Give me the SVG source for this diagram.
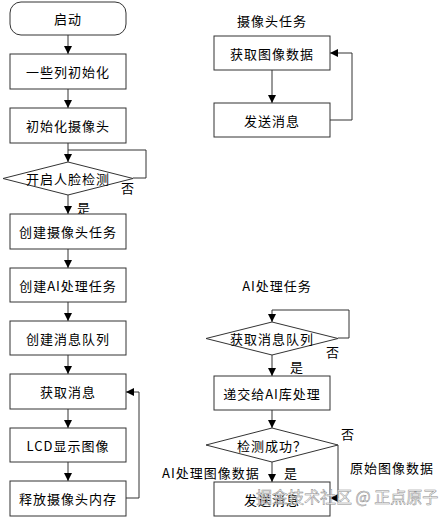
<svg xmlns="http://www.w3.org/2000/svg" width="442" height="518" viewBox="0 0 442 518">
<defs>
<marker id="arr" markerWidth="8" markerHeight="8" refX="8" refY="4" orient="auto" markerUnits="userSpaceOnUse">
<path d="M0,0 L8,4 L0,8 z" fill="#000"/>
</marker>
<style>
.box{fill:#fff;stroke:#333;stroke-width:1}
.ln{fill:none;stroke:#333;stroke-width:1}
.t{font-family:"Noto Sans CJK SC","Noto Sans",sans-serif;font-size:13px;letter-spacing:1px;fill:#000;text-anchor:middle;dominant-baseline:central}
.l{font-family:"Noto Sans CJK SC","Noto Sans",sans-serif;font-size:13px;letter-spacing:1px;fill:#000;dominant-baseline:central}
.wm{font-family:"Noto Sans CJK SC","Noto Sans",sans-serif;font-size:16px;fill:#fff;fill-opacity:0.75;stroke:#8a8a8a;stroke-width:0.5;dominant-baseline:central}
</style>
</defs>
<g id="connectors">
<line class="ln" x1="68" y1="35" x2="68" y2="54" marker-end="url(#arr)"/>
<line class="ln" x1="68" y1="89" x2="68" y2="108" marker-end="url(#arr)"/>
<line class="ln" x1="68" y1="143" x2="68" y2="162" marker-end="url(#arr)"/>
<polyline class="ln" points="133,178 146,178 146,150 68,150"/>
<line class="ln" x1="68" y1="195" x2="68" y2="214" marker-end="url(#arr)"/>
<line class="ln" x1="68" y1="249" x2="68" y2="268" marker-end="url(#arr)"/>
<line class="ln" x1="68" y1="302" x2="68" y2="321" marker-end="url(#arr)"/>
<line class="ln" x1="68" y1="355" x2="68" y2="374" marker-end="url(#arr)"/>
<line class="ln" x1="68" y1="409" x2="68" y2="428" marker-end="url(#arr)"/>
<line class="ln" x1="68" y1="462" x2="68" y2="481" marker-end="url(#arr)"/>
<polyline class="ln" points="126,498 139,498 139,392 126,392" marker-end="url(#arr)"/>
<line class="ln" x1="272" y1="70" x2="272" y2="103" marker-end="url(#arr)"/>
<polyline class="ln" points="330,120 352,120 352,53 330,53" marker-end="url(#arr)"/>
<line class="ln" x1="272" y1="310" x2="272" y2="322" marker-end="url(#arr)"/>
<polyline class="ln" points="338,338 349,338 349,310 272,310"/>
<line class="ln" x1="272" y1="355" x2="272" y2="376" marker-end="url(#arr)"/>
<line class="ln" x1="272" y1="410" x2="272" y2="428" marker-end="url(#arr)"/>
<line class="ln" x1="272" y1="462" x2="272" y2="482" marker-end="url(#arr)"/>
<polyline class="ln" points="338,445 338,498 330,498" marker-end="url(#arr)"/>
</g>
<g id="start"><rect class="box" x="10" y="2" width="116" height="33" rx="11"/><text class="t" x="68" y="18.5">启动</text></g>
<g id="init"><rect class="box" x="10" y="54" width="116" height="35"/><text class="t" x="68" y="71.5">一些列初始化</text></g>
<g id="initcam"><rect class="box" x="10" y="108" width="116" height="35"/><text class="t" x="68" y="125.5">初始化摄像头</text></g>
<g id="face"><polygon class="box" points="68,162 133,178.5 68,195 3,178.5"/><text class="t" x="68" y="178.5">开启人脸检测</text></g>
<text class="l" x="121" y="187">否</text>
<text class="l" x="77" y="207">是</text>
<g id="camtask"><rect class="box" x="10" y="214" width="116" height="35"/><text class="t" x="68" y="231.5">创建摄像头任务</text></g>
<g id="aitask"><rect class="box" x="10" y="268" width="116" height="34"/><text class="t" x="68" y="285">创建AI处理任务</text></g>
<g id="queue"><rect class="box" x="10" y="321" width="116" height="34"/><text class="t" x="68" y="338">创建消息队列</text></g>
<g id="getmsg"><rect class="box" x="10" y="374" width="116" height="35"/><text class="t" x="68" y="391.5">获取消息</text></g>
<g id="lcd"><rect class="box" x="10" y="428" width="116" height="34"/><text class="t" x="68" y="445">LCD显示图像</text></g>
<g id="release"><rect class="box" x="10" y="481" width="116" height="35"/><text class="t" x="68" y="498.5">释放摄像头内存</text></g>
<text class="t" x="272" y="20">摄像头任务</text>
<g id="getimg"><rect class="box" x="214" y="36" width="116" height="34"/><text class="t" x="272" y="53">获取图像数据</text></g>
<g id="sendmsg1"><rect class="box" x="214" y="103" width="116" height="34"/><text class="t" x="272" y="120">发送消息</text></g>
<text class="t" x="277" y="285">AI处理任务</text>
<g id="getqueue"><polygon class="box" points="272,322 338,338.5 272,355 206,338.5"/><text class="t" x="272" y="338.5">获取消息队列</text></g>
<text class="l" x="326" y="351">否</text>
<text class="l" x="290" y="366">是</text>
<g id="submit"><rect class="box" x="214" y="376" width="116" height="34"/><text class="t" x="272" y="393">递交给AI库处理</text></g>
<g id="detect"><polygon class="box" points="272,428 338,445 272,462 206,445"/><text class="t" x="272" y="445">检测成功？</text></g>
<text class="l" x="341" y="433">否</text>
<text class="l" x="162" y="472">AI处理图像数据</text>
<text class="l" x="284" y="472">是</text>
<text class="l" x="350" y="467">原始图像数据</text>
<g id="sendmsg2"><rect class="box" x="214" y="482" width="116" height="34"/><text class="t" x="272" y="499">发送消息</text></g>
<text class="wm" x="256" y="496">掘金技术社区 @ 正点原子</text>
</svg>
